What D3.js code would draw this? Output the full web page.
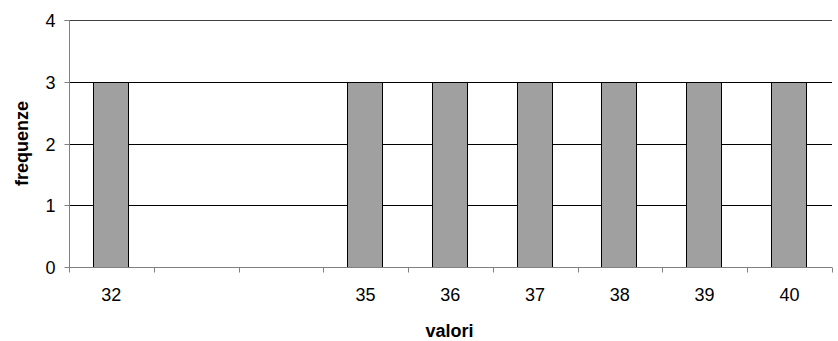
<!DOCTYPE html>
<html>
<head>
<meta charset="utf-8">
<script src="https://cdn.jsdelivr.net/npm/d3@7"></script>
<style>
  html, body { margin: 0; padding: 0; background: #fff; }
  svg { display: block; font-family: "Liberation Sans", Arial, sans-serif; }
</style>
</head>
<body>
<svg id="chart" width="838" height="341"></svg>
<script>
// Observed values and their frequencies (33 and 34 have no entries and no label)
const categories = ["32", "33", "34", "35", "36", "37", "38", "39", "40"];
const tickLabels = ["32", "", "", "35", "36", "37", "38", "39", "40"];
const frequencies = [3, null, null, 3, 3, 3, 3, 3, 3];
const yTicks = [0, 1, 2, 3, 4];

const svg = d3.select("#chart");
const margin = { left: 69, right: 6, top: 20, bottom: 74 };
const W = 838, H = 341;
const plotW = W - margin.left - margin.right;
const plotH = H - margin.top - margin.bottom;
const FONT = 18;

const g = svg.append("g").attr("transform", `translate(${margin.left},${margin.top})`);

const x = d3.scaleBand().domain(categories).range([0, plotW])
  .paddingInner(0.587).paddingOuter(0.2935).align(0.476);
const xEdges = d3.scaleBand().domain(categories).range([0, plotW]);
const y = d3.scaleLinear().domain([0, 4]).range([plotH, 0]);

// horizontal gridlines
g.selectAll("line.grid")
  .data(yTicks.filter(d => d > 0))
  .join("line")
  .attr("class", "grid")
  .attr("x1", 0).attr("x2", plotW)
  .attr("y1", d => Math.round(y(d)) + 0.5).attr("y2", d => Math.round(y(d)) + 0.5)
  .attr("stroke", d => d === 4 ? "#404040" : "#000").attr("stroke-width", 1);

// bars
const bars = categories.map((c, i) => ({ c, v: frequencies[i] })).filter(d => d.v != null);
g.selectAll("rect.bar")
  .data(bars)
  .join("rect")
  .attr("class", "bar")
  .attr("x", d => Math.round(x(d.c)) + 0.5)
  .attr("y", d => Math.round(y(d.v)) + 0.5)
  .attr("width", Math.round(x.bandwidth()))
  .attr("height", d => Math.round(y(0)) - Math.round(y(d.v)))
  .attr("fill", "#a0a0a0")
  .attr("stroke", "#000")
  .attr("stroke-width", 1);

// y axis
const yAxis = g.append("g")
  .attr("transform", "translate(0.5,0)")
  .call(d3.axisLeft(y).tickValues(yTicks).tickFormat(d3.format("d")).tickSize(5).tickPadding(9));
yAxis.select(".domain").attr("stroke", "#808080").attr("d", `M-5,${Math.round(y(4))+0.5}H0V${Math.round(y(0))+0.5}`);
yAxis.selectAll(".tick line").attr("stroke", "#808080");
yAxis.selectAll(".tick").attr("transform", d => `translate(0,${Math.round(y(d)) + 0.5})`);
yAxis.selectAll("text").attr("font-size", FONT).attr("fill", "#000")
  .attr("font-family", "Liberation Sans, Arial, sans-serif").attr("dy", "0.36em");

// x axis baseline and category boundary ticks
const xAxisG = g.append("g").attr("transform", `translate(0,${Math.round(y(0)) + 0.5})`);
xAxisG.append("line").attr("x1", 0).attr("x2", plotW).attr("stroke", "#808080");
const edges = categories.map(c => xEdges(c)).concat([plotW]);
xAxisG.selectAll("line.edge")
  .data(edges)
  .join("line")
  .attr("class", "edge")
  .attr("x1", d => Math.round(d) + 0.5).attr("x2", d => Math.round(d) + 0.5)
  .attr("y1", 0).attr("y2", 5)
  .attr("stroke", "#808080");
xAxisG.selectAll("text.lbl")
  .data(categories)
  .join("text")
  .attr("class", "lbl")
  .attr("x", d => x(d) + x.bandwidth() / 2 + 1)
  .attr("y", 33)
  .attr("text-anchor", "middle")
  .attr("font-size", FONT)
  .text((d, i) => tickLabels[i]);

// axis titles
svg.append("text")
  .attr("x", margin.left + plotW / 2 - 1)
  .attr("y", 337)
  .attr("text-anchor", "middle")
  .attr("font-size", FONT).attr("font-weight", "bold")
  .text("valori");

svg.append("text")
  .attr("transform", `translate(28,${margin.top + plotH / 2}) rotate(-90)`)
  .attr("text-anchor", "middle")
  .attr("font-size", FONT).attr("font-weight", "bold")
  .text("frequenze");
</script>
</body>
</html>
